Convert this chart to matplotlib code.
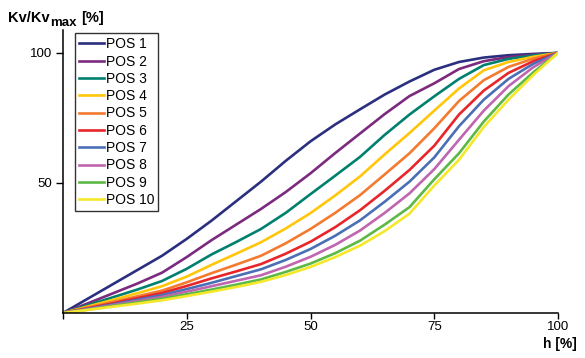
import matplotlib
matplotlib.use("Agg")
import matplotlib.pyplot as plt

plt.rcParams['font.family'] = ['Liberation Sans', 'DejaVu Sans']

# valve stroke h [%]
h = [0, 5, 10, 15, 20, 25, 30, 35, 40, 45, 50,
     55, 60, 65, 70, 75, 80, 85, 90, 95, 100]

# relative flow coefficient Kv/Kvmax [%] for each position
pos1 = [0, 5.5, 11, 16.5, 22, 28.5, 35.5, 43, 50.5, 58.5, 66,
        72.5, 78.3, 84, 89, 93.5, 96.5, 98.2, 99.1, 99.6, 100]
pos2 = [0, 3.7, 7.5, 11.3, 15.5, 21.5, 28, 34, 40, 46.5, 53.7,
        61.5, 69, 76.5, 83.4, 88.3, 93.8, 96.8, 98.4, 99.3, 100]
pos3 = [0, 3, 6, 9, 12.3, 17, 22.5, 27.3, 32.3, 38.5, 45.7,
        52.8, 60, 68.5, 76.3, 83.3, 90, 95.3, 97.7, 99, 100]
pos4 = [0, 2.5, 5, 7.6, 10.3, 14, 18.5, 22.8, 27.2, 32.5, 38.4,
        45.2, 52.5, 61, 69.2, 77.8, 86.3, 93.3, 96.5, 98.5, 100]
pos5 = [0, 2.1, 4.2, 6.4, 8.6, 11.8, 15.3, 18.6, 22, 26.8, 32.3,
        38.5, 45.3, 53.3, 61.4, 71, 81.5, 89.5, 94.6, 97.8, 100]
pos6 = [0, 1.8, 3.7, 5.7, 7.7, 10.4, 13.3, 16, 18.8, 22.8, 27.4,
        33, 39.5, 47, 55, 64.3, 76.3, 85.5, 92.3, 96.8, 100]
pos7 = [0, 1.6, 3.3, 5.1, 6.9, 9.2, 11.6, 14.2, 16.8, 20.4, 24.6,
        29.7, 35.6, 42.8, 50.5, 59.8, 71.8, 82, 90, 95.8, 100]
pos8 = [0, 1.5, 3, 4.6, 6.2, 8.2, 10.3, 12.4, 14.5, 17.8, 21.6,
        26.2, 31.7, 38.5, 46, 55.3, 66.6, 77.8, 87.2, 94.5, 100]
pos9 = [0, 1.3, 2.7, 4.1, 5.5, 7.2, 9, 10.9, 12.9, 15.8, 19,
        23, 27.8, 34, 40.7, 51.4, 61.4, 73.6, 84, 92.5, 100]
pos10 = [0, 1.2, 2.4, 3.6, 4.9, 6.5, 8.2, 10, 12, 14.6, 17.7,
         21.5, 25.9, 31.5, 38.2, 49, 58.9, 71.5, 82, 91.5, 100]

labels = ["POS 1", "POS 2", "POS 3", "POS 4", "POS 5",
          "POS 6", "POS 7", "POS 8", "POS 9", "POS 10"]
series = [pos1, pos2, pos3, pos4, pos5, pos6, pos7, pos8, pos9, pos10]
colors = ["#2b2f7f", "#7b2a7f", "#00806f", "#ffc60a", "#f47a30",
          "#e8262a", "#4a6fb5", "#c065b0", "#5db946", "#f5e82a"]

W, H = 585, 358
fig = plt.figure(figsize=(W / 100, H / 100), dpi=100)
ax = fig.add_axes([63 / W, 1 - 313 / H, (558 - 63) / W, (313 - 30) / H])

for vals, lab, col in zip(series, labels, colors):
    ax.plot(h, vals, color=col, lw=1.9, label=lab)

ax.set_xlim(0, 100)
ax.set_ylim(0, 108.8)
ax.set_xticks([0, 25, 50, 75, 100])
ax.set_xticklabels(["", "25", "50", "75", "100"])
ax.set_yticks([50, 100])
ax.tick_params(direction='out', width=1, labelsize=9.5)
ax.tick_params(axis='x', length=4, pad=1.5)
ax.tick_params(axis='y', length=5, pad=3)
ax.spines['top'].set_visible(False)
ax.spines['right'].set_visible(False)
for s in ('left', 'bottom'):
    ax.spines[s].set_linewidth(1.1)

leg = ax.legend(loc='upper left', bbox_to_anchor=(75 / W, 1 - 33 / H),
                bbox_transform=fig.transFigure,
                fontsize=10, frameon=True, fancybox=False, edgecolor='black',
                handlelength=1.8, handletextpad=0.1, labelspacing=0.24,
                borderpad=0.3, borderaxespad=0)
leg.get_frame().set_linewidth(1.0)

# axis titles: "Kv/Kv" with a lowered "max" right after it
t1 = fig.text(8 / W, 1 - 21.7 / H, "Kv/Kv", fontsize=10.5, fontweight='bold',
              va='baseline', ha='left')
t2 = ax.annotate("max", xy=(1, 0), xycoords=t1, xytext=(0.5, -2.8),
                 textcoords='offset points', fontsize=9.5, fontweight='bold',
                 va='bottom', ha='left')
ax.annotate("[%]", xy=(1, 0), xycoords=t2, xytext=(3, 2.8),
            textcoords='offset points', fontsize=10.5, fontweight='bold',
            va='bottom', ha='left')
fig.text(577 / W, 1 - 344 / H, "h [%]", fontsize=10, fontweight='bold',
         va='center', ha='right')

fig.savefig("out.png", dpi=100)
